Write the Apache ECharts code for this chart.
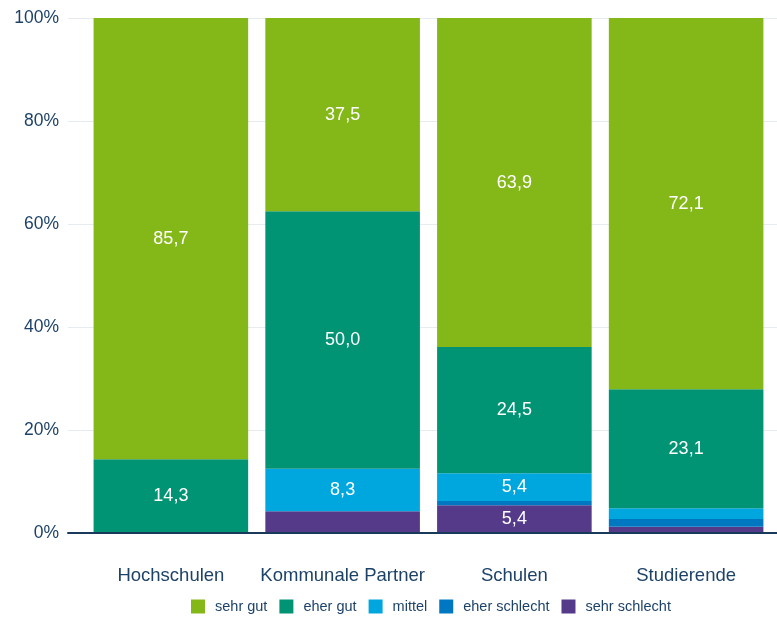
<!DOCTYPE html>
<html>
<head>
<meta charset="utf-8">
<script src="https://cdn.jsdelivr.net/npm/echarts@6/dist/echarts.min.js"></script>
<style>
  html, body { margin: 0; padding: 0; background: #fff; }
  #chart { width: 777px; height: 619px; }
</style>
</head>
<body>
<div id="chart"></div>
<script>
// data
const categories = ["Hochschulen", "Kommunale Partner", "Schulen", "Studierende"];
const sehrGut = [85.7, 37.5, 63.9, 72.1];
const eherGut = [14.3, 50.0, 24.5, 23.1];
const mittel = [0, 8.3, 5.4, 2.1];
const eherSchlecht = [0, 0, 0.8, 1.5];
const sehrSchlecht = [0, 4.2, 5.4, 1.2];
const yTicks = [0, 20, 40, 60, 80, 100];

const navy = "#1d4268";
const colors = {
  "sehr gut": "#84b819",
  "eher gut": "#009374",
  "mittel": "#00a7de",
  "eher schlecht": "#0077c1",
  "sehr schlecht": "#553a8a"
};

function mkSeries(name, data) {
  return {
    name: name,
    type: "bar",
    stack: "total",
    xAxisIndex: 1,
    yAxisIndex: 1,
    barCategoryGap: "10%",
    data: data,
    itemStyle: { color: colors[name] },
    label: {
      show: true,
      color: "#fff",
      fontSize: 18,
      fontFamily: "Liberation Sans, Arial, sans-serif",
      formatter: p => p.value >= 5 ? p.value.toFixed(1).replace(".", ",") : ""
    }
  };
}

let myChart = echarts.init(document.getElementById("chart"));
myChart.setOption({
  animation: false,
  textStyle: { fontFamily: "Liberation Sans, Arial, sans-serif" },
  legend: {
    data: ["sehr gut", "eher gut", "mittel", "eher schlecht", "sehr schlecht"],
    bottom: 0,
    left: 186,
    icon: "rect",
    itemWidth: 14,
    itemHeight: 14,
    itemGap: 12,
    textStyle: { color: navy, fontSize: 14.5, padding: [0, 0, 0, 5] }
  },
  grid: [
    { left: 68, right: 0, top: 18, bottom: 86 },
    { left: 85, right: 5, top: 18, bottom: 86 }
  ],
  xAxis: [
    {
      gridIndex: 0,
      type: "category",
      data: categories,
      z: 10,
      axisLine: { show: true, lineStyle: { color: "#1a3a5c", width: 2 } },
      axisTick: { show: false },
      axisLabel: { show: false }
    },
    {
      gridIndex: 1,
      type: "category",
      data: categories,
      axisLine: { show: false },
      axisTick: { show: false },
      axisLabel: { color: navy, fontSize: 18.5, margin: 33, interval: 0 }
    }
  ],
  yAxis: [
    {
      gridIndex: 0,
      type: "value",
      min: 0,
      max: 100,
      interval: 20,
      axisLine: { show: false },
      axisTick: { show: false },
      axisLabel: {
        color: navy,
        fontSize: 17.5,
        margin: 9,
        formatter: v => yTicks.includes(v) ? v + "%" : ""
      },
      splitLine: { lineStyle: { color: "#e6ebef", width: 1 } }
    },
    {
      gridIndex: 1,
      type: "value",
      min: 0,
      max: 100,
      interval: 20,
      show: false
    }
  ],
  series: [
    mkSeries("sehr schlecht", sehrSchlecht),
    mkSeries("eher schlecht", eherSchlecht),
    mkSeries("mittel", mittel),
    mkSeries("eher gut", eherGut),
    mkSeries("sehr gut", sehrGut)
  ]
});
</script>
</body>
</html>
